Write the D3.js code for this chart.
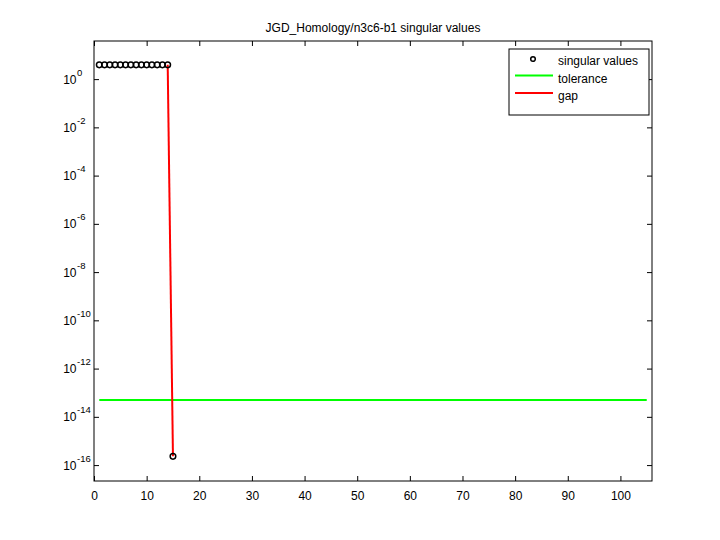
<!DOCTYPE html>
<html lang="en"><head><meta charset="utf-8">
<script src="https://d3js.org/d3.v7.min.js"></script>
<style>
body { margin: 0; background: #fff; }
text { font-family: "Liberation Sans", Helvetica, Arial, sans-serif; font-size: 12px; fill: #000; }
</style>
</head><body>
<div id="chart"></div>
<script>
// data
var svIndex = [1, 2, 3, 4, 5, 6, 7, 8, 9, 10, 11, 12, 13, 14, 15];
var svValues = [3.9, 3.9, 3.9, 3.9, 3.9, 3.9, 3.9, 3.9, 3.9, 3.9, 3.9, 3.9, 3.9, 3.9, 2.3e-16];
var tolX = [1, 105];
var tolValue = 5e-14;
var gapIndex = [14, 15];
var xTicks = [0, 10, 20, 30, 40, 50, 60, 70, 80, 90, 100];
var yExponents = [0, -2, -4, -6, -8, -10, -12, -14, -16];
var legendLabels = ["singular values", "tolerance", "gap"];

var width = 720, height = 540;
var margin = { top: 41, right: 68, bottom: 59, left: 94 };
var W = width - margin.left - margin.right,
    H = height - margin.top - margin.bottom;

var svg = d3.select("#chart").append("svg")
    .attr("width", width).attr("height", height);

var g = svg.append("g")
    .attr("transform", "translate(" + margin.left + "," + margin.top + ")");

var x = d3.scaleLinear().domain([0, 106]).range([0, W]);
var y = d3.scaleLog().domain([Math.pow(10, -16.66), Math.pow(10, 1.58)]).range([H, 0]);

// frame
g.append("rect").attr("width", W).attr("height", H)
    .attr("fill", "none").attr("stroke", "#000").attr("stroke-width", 1);

// axes with inward ticks
var xAxis = g.append("g").attr("transform", "translate(0," + H + ")")
    .call(d3.axisBottom(x).tickValues(xTicks).tickSize(-5).tickPadding(10));
g.append("g")
    .call(d3.axisTop(x).tickValues(xTicks).tickSize(-5).tickFormat(""));

var yTickVals = yExponents.map(e => Math.pow(10, e));
var yAxis = g.append("g")
    .call(d3.axisLeft(y).tickValues(yTickVals).tickSize(-5).tickFormat(""));
g.append("g").attr("transform", "translate(" + W + ",0)")
    .call(d3.axisRight(y).tickValues(yTickVals).tickSize(-5).tickFormat(""));

g.selectAll(".domain").remove();
g.selectAll(".tick line").attr("stroke", "#000");
xAxis.selectAll("text").style("font-size", "12px").attr("fill", "#000");

// y labels as 10^e
yExponents.forEach(function (e) {
    var yy = y(Math.pow(10, e));
    g.append("text")
        .attr("x", -17.5).attr("y", yy)
        .attr("dy", "0.38em").attr("text-anchor", "end")
        .text("10");
    g.append("text")
        .attr("x", -17).attr("y", yy - 7)
        .attr("dy", "0.38em")
        .style("font-size", "9.5px").text(e);
});

// tolerance
g.append("line")
    .attr("x1", x(tolX[0])).attr("x2", x(tolX[1]))
    .attr("y1", y(tolValue)).attr("y2", y(tolValue))
    .attr("stroke", "#00ff00").attr("stroke-width", 2);

// gap
g.append("line")
    .attr("x1", x(gapIndex[0])).attr("y1", y(svValues[gapIndex[0] - 1]))
    .attr("x2", x(gapIndex[1])).attr("y2", y(svValues[gapIndex[1] - 1]))
    .attr("stroke", "#ff0000").attr("stroke-width", 2);

// singular values
g.append("g").selectAll("circle")
    .data(svIndex)
    .join("circle")
    .attr("cx", (d, i) => x(d))
    .attr("cy", (d, i) => y(svValues[i]))
    .attr("r", 2.8)
    .attr("fill", "none").attr("stroke", "#000").attr("stroke-width", 1.5);

// title
svg.append("text")
    .attr("x", margin.left + W / 2).attr("y", 32)
    .attr("text-anchor", "middle")
    .text("JGD_Homology/n3c6-b1 singular values");

// legend
var lg = svg.append("g").attr("transform", "translate(509,49)");
lg.append("rect").attr("width", 140).attr("height", 66)
    .attr("fill", "#fff").attr("stroke", "#000");
var rows = lg.selectAll("g.row").data(legendLabels).join("g")
    .attr("class", "row")
    .attr("transform", (d, i) => "translate(0," + (12 + i * 17.5) + ")");
rows.append("text").attr("x", 49).attr("dy", "0.35em").text(d => d);
rows.filter((d, i) => i === 0).append("circle")
    .attr("cx", 24).attr("cy", -2).attr("r", 2.3)
    .attr("fill", "none").attr("stroke", "#000").attr("stroke-width", 1.5);
rows.filter((d, i) => i > 0).append("line")
    .attr("x1", 6).attr("x2", 44).attr("y1", -3).attr("y2", -3)
    .attr("stroke", (d, i) => i === 0 ? "#00ff00" : "#ff0000")
    .attr("stroke-width", 2);
</script>
</body></html>
